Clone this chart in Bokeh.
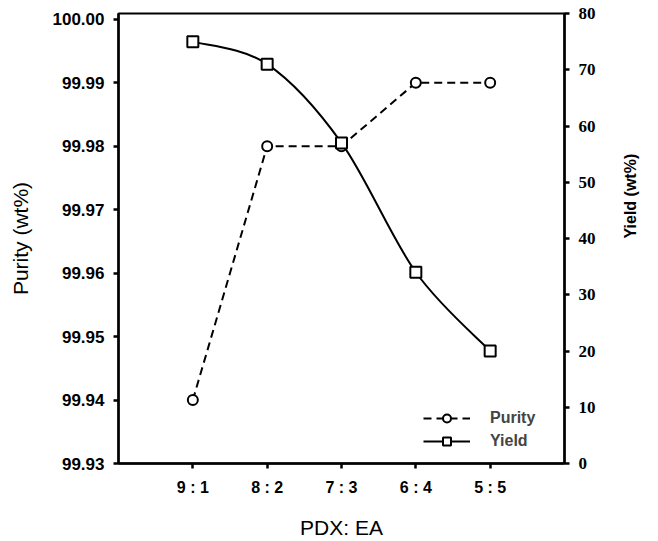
import math
from bokeh.plotting import figure
from bokeh.models import (Range1d, LinearAxis, FixedTicker, PrintfTickFormatter,
                          Legend, LegendItem)
from bokeh.embed import file_html
from bokeh.resources import INLINE

categories = ["9 : 1", "8 : 2", "7 : 3", "6 : 4", "5 : 5"]
purity = [99.94, 99.98, 99.98, 99.99, 99.99]
yield_pct = [75, 71, 57, 34, 20]
left_ticks = [99.93, 99.94, 99.95, 99.96, 99.97, 99.98, 99.99, 100.00]
right_ticks = [0, 10, 20, 30, 40, 50, 60, 70, 80]

xs = list(range(1, len(categories) + 1))

p = figure(width=650, height=541, output_backend="svg", toolbar_location=None,
           x_range=Range1d(0, 6), y_range=Range1d(99.93, 100.0009),
           min_border_left=118, min_border_right=79, min_border_top=13,
           min_border_bottom=74)
p.extra_y_ranges = {"yield": Range1d(0, 80)}
p.xgrid.visible = False
p.ygrid.visible = False
p.outline_line_color = "black"
p.outline_line_width = 2
p.background_fill_color = "white"
p.border_fill_color = "white"

SANS = "Liberation Sans"
SERIF = "Liberation Serif"

# Left axis
ya = p.yaxis[0]
ya.ticker = FixedTicker(ticks=left_ticks)
ya.formatter = PrintfTickFormatter(format="%.2f")
ya.axis_label = "Purity (wt%)"
ya.axis_label_text_font = SANS
ya.axis_label_text_font_style = "normal"
ya.axis_label_text_font_size = "21px"
ya.axis_label_standoff = 18
ya.major_label_text_font = SANS
ya.major_label_text_font_style = "bold"
ya.major_label_text_font_size = "17px"
ya.major_label_standoff = 9

# Bottom axis
xa = p.xaxis[0]
xa.ticker = FixedTicker(ticks=xs)
xa.major_label_overrides = {x: c for x, c in zip(xs, categories)}
xa.axis_label = "PDX: EA"
xa.axis_label_text_font = SANS
xa.axis_label_text_font_style = "normal"
xa.axis_label_text_font_size = "21px"
xa.axis_label_standoff = 17
xa.major_label_text_font = SANS
xa.major_label_text_font_style = "bold"
xa.major_label_text_font_size = "16px"
xa.major_label_standoff = 10

# Right axis
ra = LinearAxis(y_range_name="yield", ticker=FixedTicker(ticks=right_ticks))
ra.axis_label = "Yield (wt%)"
ra.axis_label_orientation = math.pi / 2
ra.axis_label_text_font = SANS
ra.axis_label_text_font_style = "bold"
ra.axis_label_text_font_size = "16px"
ra.axis_label_standoff = 32
ra.major_label_text_font = SERIF
ra.major_label_text_font_style = "bold"
ra.major_label_text_font_size = "17px"
ra.major_label_standoff = 9
p.add_layout(ra, "right")

for ax in (ya, xa, ra):
    ax.axis_line_width = 2.5
    ax.axis_line_color = "black"
    ax.major_tick_line_width = 2.5
    ax.major_tick_out = 5
    ax.major_tick_in = 0
    ax.minor_tick_line_color = None
    ax.major_label_text_color = "black"
    ax.axis_label_text_color = "black"

# Purity: dashed straight segments with open circles
pl = p.line(xs, purity, line_color="black", line_width=2, line_dash="8 5")
pc = p.scatter(xs, purity, marker="circle", size=10, fill_color="white",
               line_color="black", line_width=2)

# Yield: smooth (Catmull-Rom) curve through the data with open squares
n = len(xs)
x0, y0, x1, y1, cx0, cy0, cx1, cy1 = [], [], [], [], [], [], [], []
for i in range(n - 1):
    xp = xs[i - 1] if i > 0 else xs[i]
    yp = yield_pct[i - 1] if i > 0 else yield_pct[i]
    xn = xs[i + 2] if i + 2 < n else xs[i + 1]
    yn = yield_pct[i + 2] if i + 2 < n else yield_pct[i + 1]
    x0.append(xs[i]); y0.append(yield_pct[i])
    x1.append(xs[i + 1]); y1.append(yield_pct[i + 1])
    cx0.append(xs[i] + (xs[i + 1] - xp) / 6.0)
    cy0.append(yield_pct[i] + (yield_pct[i + 1] - yp) / 6.0)
    cx1.append(xs[i + 1] - (xn - xs[i]) / 6.0)
    cy1.append(yield_pct[i + 1] - (yn - yield_pct[i]) / 6.0)
yb = p.bezier(x0=x0, y0=y0, x1=x1, y1=y1, cx0=cx0, cy0=cy0, cx1=cx1, cy1=cy1,
              line_color="black", line_width=2, y_range_name="yield")
ys = p.scatter(xs, yield_pct, marker="square", size=11, fill_color="white",
               line_color="black", line_width=2, y_range_name="yield")

# Legend proxies (line + marker)
lg_line = p.line([None], [None], line_color="black", line_width=2)
legend = Legend(items=[LegendItem(label="Purity", renderers=[pl, pc]),
                       LegendItem(label="Yield", renderers=[lg_line, ys])],
                location=(305, 12), orientation="vertical",
                glyph_width=47, glyph_height=20, label_height=20,
                label_standoff=20, spacing=3, padding=0, margin=0,
                background_fill_alpha=0, border_line_color=None,
                label_text_font=SANS, label_text_font_style="bold",
                label_text_font_size="16px")
p.add_layout(legend)

open("out.html", "w").write(file_html(p, INLINE))
